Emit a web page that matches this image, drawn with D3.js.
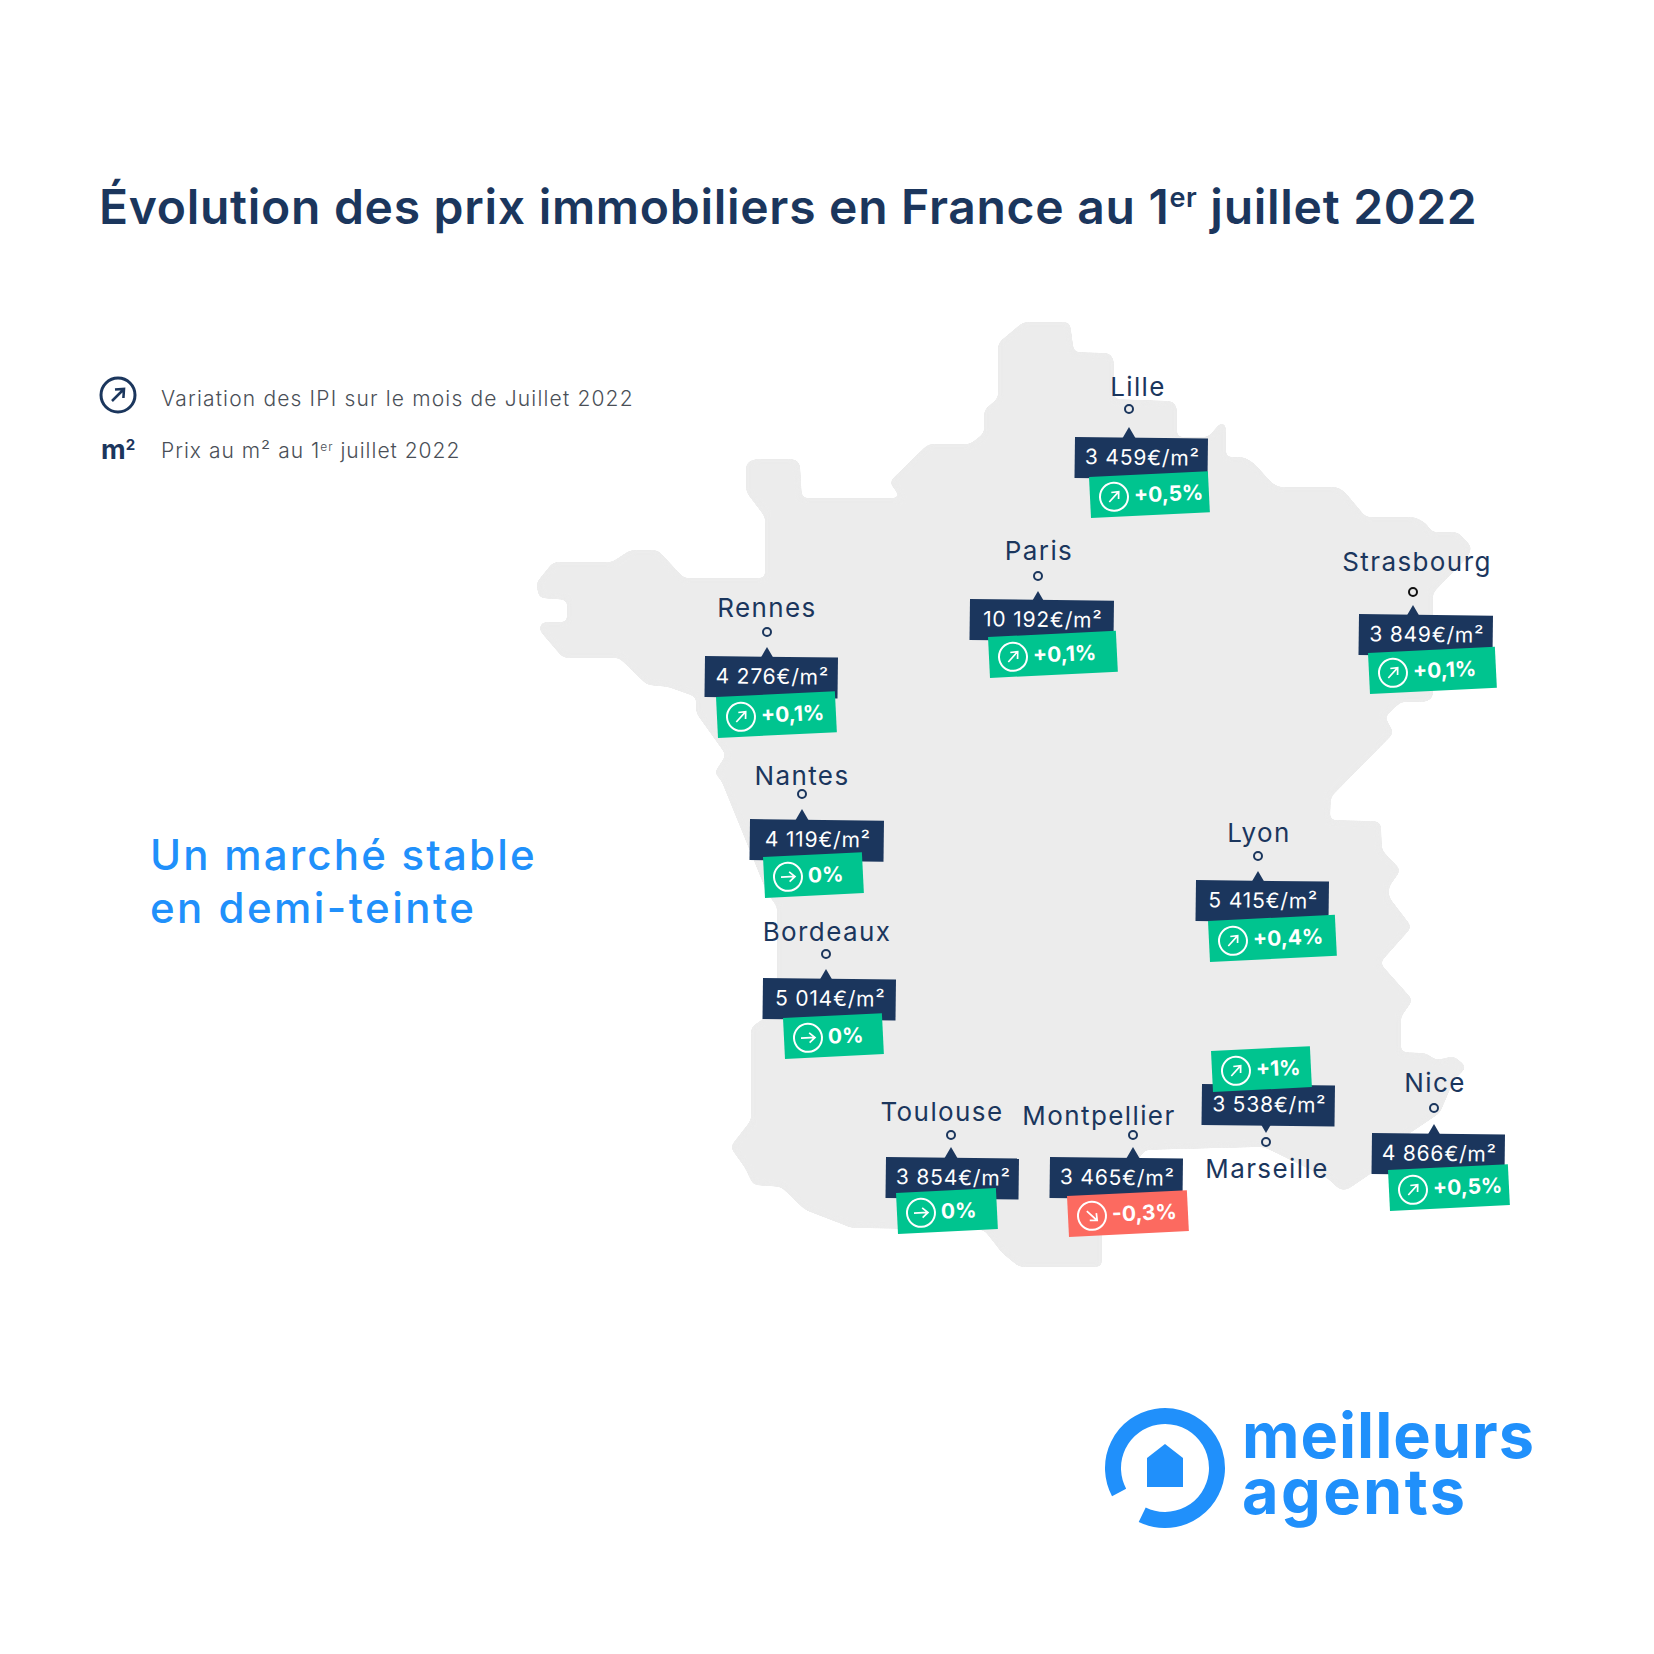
<!DOCTYPE html>
<html>
<head>
<meta charset="utf-8">
<script src="https://d3js.org/d3.v7.min.js"></script>
<style>
  html, body { margin: 0; background: #fff; }
  text { font-family: "Inter", "Noto Sans", sans-serif; }
</style>
</head>
<body>
<svg width="1654" height="1654"></svg>
<script>
// values
const cities = ["Lille", "Paris", "Strasbourg", "Rennes", "Nantes", "Lyon", "Bordeaux", "Toulouse", "Montpellier", "Marseille", "Nice"];
const prices = ["3 459", "10 192", "3 849", "4 276", "4 119", "5 415", "5 014", "3 854", "3 465", "3 538", "4 866"];
const changes = [0.5, 0.1, 0.1, 0.1, 0, 0.4, 0, 0, -0.3, 1, 0.5];
const changeLabels = ["+0,5%", "+0,1%", "+0,1%", "+0,1%", "0%", "+0,4%", "0%", "0%", "-0,3%", "+1%", "+0,5%"];

// map units for the cities and the outline
const cityLon = [1129, 1038, 1413, 767, 802, 1258, 826, 951, 1133, 1266, 1434];
const cityLat = [409, 576, 592, 632, 794, 856, 954, 1135, 1135, 1142, 1108];
const outlineLon = [1023,1070,1074,1110,1114,1114,1173,1177,1177,1208,1222,1226,1226,1244,1254,1272,1279,1338,1345,1366,1415,1426,1432,1458,1472,1468,1433,1433,1426,1401,1385,1394,1331,1330,1377,1381,1382,1401,1389,1389,1412,1380,1413,1401,1401,1426,1436,1454,1467,1454,1440,1400,1372,1347,1340,1327,1270,1263,1145,1110,1102,1102,1019,1002,984,851,844,805,781,753,745,730,751,751,763,777,777,767,721,714,726,696,696,668,647,619,563,539,541,567,567,539,536,553,612,630,658,684,765,765,746,746,754,795,800,802,901,889,928,970,984,984,998,998];
const outlineLat = [322,322,352,353,360,399,401,407,437,437,421,425,457,457,463,483,487,487,492,517,517,523,532,532,547,557,593,698,702,702,717,733,797,820,821,823,850,870,887,897,927,963,1000,1017,1052,1053,1060,1056,1067,1080,1113,1140,1173,1190,1190,1178,1150,1147,1150,1200,1230,1267,1267,1253,1230,1228,1225,1210,1187,1185,1168,1147,1120,1027,1019,1000,907,893,780,773,755,713,697,687,685,658,658,630,622,622,600,598,583,562,562,550,550,578,578,517,492,463,459,459,463,498,498,482,444,444,433,410,398,343];

const width = 1654;
const mapX = d3.scaleLinear().domain([0, 1654]).range([0, width]);
const mapY = d3.scaleLinear().domain([0, 1654]).range([0, width]);

const navy = "#1b365d", blue = "#2090fb", grey = "#ececec", green = "#00c48f", red = "#fc6a60";

// label layout for each city, offsets from the city point
const layout = {
  Lille:       { name: [9, -13],   tip: 18, card: [-54, 28],  w: 133, chg: [-40, 68],  cw: 119 },
  Paris:       { name: [1, -16],   tip: 15, card: [-68, 23],  w: 144, chg: [-50, 61],  cw: 128 },
  Strasbourg:  { name: [4, -21],   tip: 13, card: [-54, 22],  w: 134, chg: [-45, 61],  cw: 127 },
  Rennes:      { name: [0, -15],   tip: 15, card: [-62, 24],  w: 133, chg: [-51, 65],  cw: 119 },
  Nantes:      { name: [0, -9],    tip: 15, card: [-52, 25],  w: 134, chg: [-39, 63],  cw: 99 },
  Lyon:        { name: [1, -14],   tip: 15, card: [-62, 24],  w: 133, chg: [-50, 65],  cw: 127 },
  Bordeaux:    { name: [1, -13],   tip: 15, card: [-63, 24],  w: 133, chg: [-43, 64],  cw: 99 },
  Toulouse:    { name: [-9, -14],  tip: 12, card: [-65, 22],  w: 133, chg: [-55, 58],  cw: 100 },
  Montpellier: { name: [-34, -10], tip: 12, card: [-83, 22],  w: 133, chg: [-66, 61],  cw: 120 },
  Marseille:   { name: [1, 36],    tip: -9, card: [-64, -58], w: 133, chg: [-55, -91], cw: 99 },
  Nice:        { name: [1, -16],   tip: 16, card: [-62, 25],  w: 133, chg: [-46, 62],  cw: 120 }
};

const svg = d3.select("svg");

// blur + threshold rounds the corners of the map without growing it
const soft = svg.append("defs").append("filter").attr("id", "soft").attr("color-interpolation-filters", "sRGB");
soft.append("feGaussianBlur").attr("stdDeviation", 3);
soft.append("feComponentTransfer").append("feFuncA").attr("type", "linear").attr("slope", 20).attr("intercept", -9.5);

// map
svg.append("path")
  .datum(d3.zip(outlineLon, outlineLat))
  .attr("fill", grey)
  .attr("filter", "url(#soft)")
  .attr("d", d3.line().x(d => mapX(d[0])).y(d => mapY(d[1])).curve(d3.curveLinearClosed));

// title
const title = svg.append("text")
  .attr("x", 99).attr("y", 224)
  .attr("fill", navy)
  .attr("font-size", 48)
  .attr("letter-spacing", 0.72)
  .attr("font-weight", 600);
title.append("tspan").text("Évolution des prix immobiliers en France au 1");
title.append("tspan").text("er").attr("dy", -17).attr("font-size", 27);
title.append("tspan").text(" juillet 2022").attr("dy", 17);

// arrow inside a ring, angle says if the price went up, flat or down
function changeIcon(g, cx, cy, r, color, change, sw) {
  const icon = g.append("g").attr("transform", `translate(${cx},${cy}) rotate(${change > 0 ? -45 : change < 0 ? 45 : 0})`);
  icon.append("circle").attr("r", r).attr("fill", "none").attr("stroke", color).attr("stroke-width", sw);
  const a = r * 0.5;
  icon.append("path")
    .attr("d", `M${-a},0H${a}M${a * 0.2},${-a * 0.7}L${a},0L${a * 0.2},${a * 0.7}`)
    .attr("fill", "none").attr("stroke", color).attr("stroke-width", sw * 0.85);
}

// legend
changeIcon(svg.append("g"), 118, 395, 17, navy, 1, 3);
svg.append("text").attr("x", 161).attr("y", 406).attr("fill", "#4a4f57").attr("font-size", 21)
  .attr("font-weight", 300).attr("letter-spacing", 1.17)
  .text("Variation des IPI sur le mois de Juillet 2022");
const m2 = svg.append("text").attr("x", 101).attr("y", 459).attr("fill", navy).attr("font-size", 27).attr("font-weight", 700);
m2.append("tspan").text("m");
m2.append("tspan").text("2").attr("dy", -9).attr("font-size", 15);
const leg2 = svg.append("text").attr("x", 161).attr("y", 458).attr("fill", "#4a4f57").attr("font-size", 21)
  .attr("font-weight", 300).attr("letter-spacing", 1);
leg2.append("tspan").text("Prix au m² au 1");
leg2.append("tspan").text("er").attr("dy", -7).attr("font-size", 12);
leg2.append("tspan").text(" juillet 2022").attr("dy", 7);

// subtitle
svg.append("text").attr("x", 150).attr("y", 870).attr("fill", blue).attr("font-size", 42).attr("font-weight", 500).attr("letter-spacing", 2.2).text("Un marché stable");
svg.append("text").attr("x", 150).attr("y", 923).attr("fill", blue).attr("font-size", 42).attr("font-weight", 500).attr("letter-spacing", 2.45).text("en demi-teinte");

// one group per city
cities.forEach((city, i) => {
  const l = layout[city];
  const x = mapX(cityLon[i]), y = mapY(cityLat[i]);
  const g = svg.append("g").attr("class", "city");

  g.append("circle").attr("cx", x).attr("cy", y).attr("r", 4)
    .attr("fill", "none").attr("stroke", city === "Strasbourg" ? "#111" : navy).attr("stroke-width", 2);

  g.append("text").attr("x", x + l.name[0]).attr("y", y + l.name[1])
    .attr("text-anchor", "middle").attr("fill", navy).attr("font-size", 26).attr("letter-spacing", 1.4)
    .text(city);

  // small pointer on the price card
  const up = l.tip > 0;
  const tipY = y + l.tip;
  const baseY = tipY + (up ? 12 : -12);
  g.append("path").attr("fill", navy)
    .attr("d", `M${x},${tipY}L${x + 7},${baseY}L${x - 7},${baseY}Z`);

  // price card
  const cx = x + l.card[0], cy = y + l.card[1];
  const price = g.append("g").attr("transform", `translate(${cx},${cy}) rotate(0.7)`);
  price.append("rect").attr("width", l.w).attr("height", 41).attr("fill", navy);
  price.append("text").attr("x", l.w / 2 + 1).attr("y", 27).attr("text-anchor", "middle")
    .attr("fill", "#fff").attr("font-size", 21).attr("letter-spacing", 0.8)
    .text(`${prices[i]}€/m²`);

  // change tag
  const tx = x + l.chg[0], ty = y + l.chg[1];
  const tag = g.append("g").attr("transform", `translate(${tx},${ty}) rotate(-2.8)`);
  tag.append("rect").attr("width", l.cw).attr("height", 41)
    .attr("fill", changes[i] < 0 ? red : green);
  changeIcon(tag, 24, 21, 14, "#fff", changes[i], 2);
  tag.append("text").attr("x", 44).attr("y", 28).attr("fill", "#fff")
    .attr("font-size", 21).attr("font-weight", 700).text(changeLabels[i]);
});

// logo
const logoX = 1165, logoY = 1468, logoR = 52;
const deg = Math.PI / 180;
svg.append("path")
  .attr("transform", `translate(${logoX},${logoY})`)
  .attr("fill", "none").attr("stroke", blue).attr("stroke-width", 16).attr("stroke-linecap", "round")
  .attr("d", d3.arc()({ innerRadius: logoR, outerRadius: logoR, startAngle: 242 * deg, endAngle: 566 * deg }));
svg.append("path").attr("fill", blue)
  .attr("transform", `translate(${logoX},${logoY})`)
  .attr("d", "M0,-24L18,-10V19H-18V-10Z");
const logoText = svg.append("text").attr("fill", blue).attr("font-size", 63).attr("font-weight", 700).attr("letter-spacing", 1);
logoText.append("tspan").attr("x", 1242).attr("y", 1458).text("meilleurs");
logoText.append("tspan").attr("x", 1242).attr("y", 1514).attr("letter-spacing", 2.4).text("agents");
</script>
</body>
</html>
